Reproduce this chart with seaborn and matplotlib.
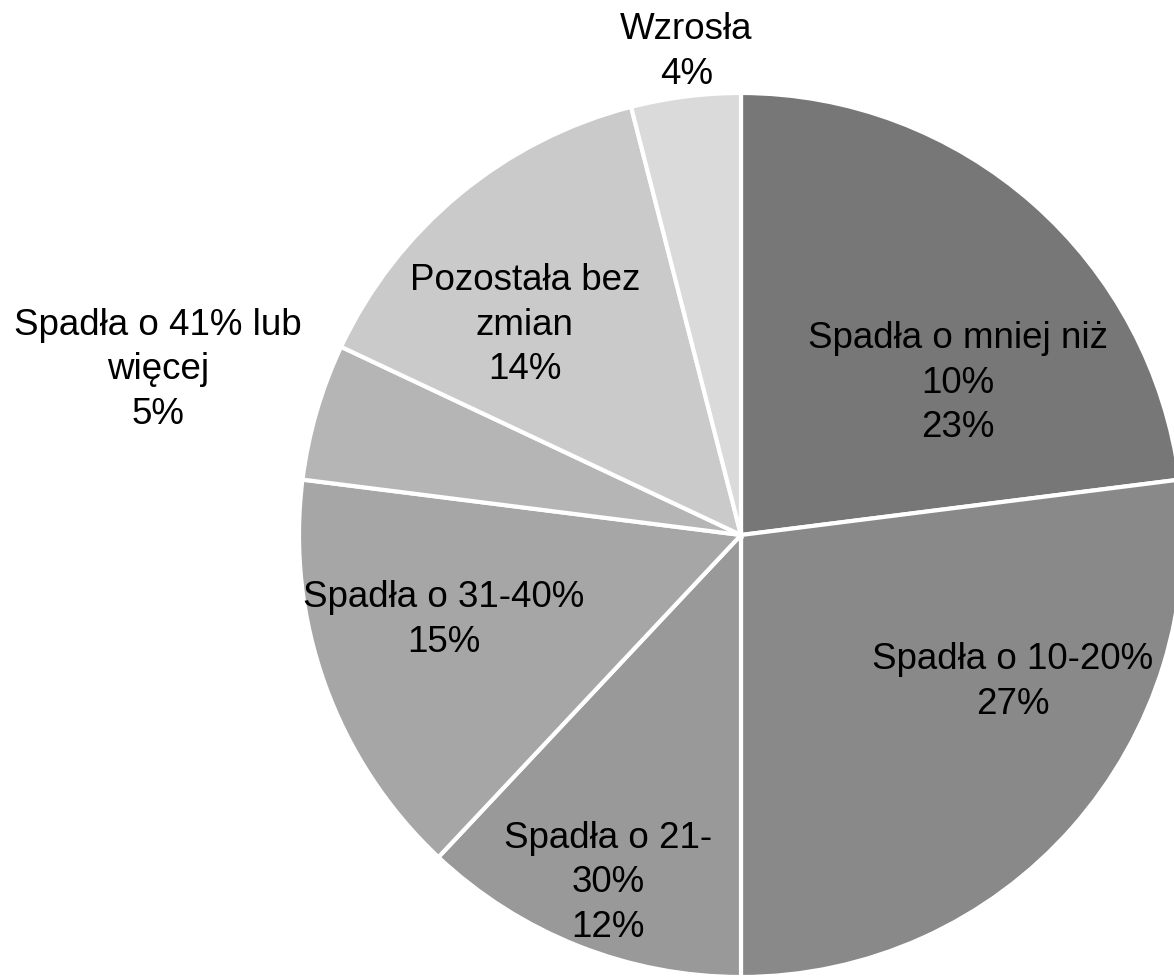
import matplotlib
matplotlib.use("Agg")
import matplotlib.pyplot as plt
import seaborn as sns

sns.set_theme(style="white")
plt.rcParams['font.family'] = ['Liberation Sans', 'DejaVu Sans']

labels = ["Spadła o mniej niż\n10%", "Spadła o 10-20%", "Spadła o 21-\n30%",
          "Spadła o 31-40%", "Spadła o 41% lub\nwięcej", "Pozostała bez\nzmian", "Wzrosła"]
values = [23, 27, 12, 15, 5, 14, 4]
colors = ["#777777", "#898989", "#999999", "#a6a6a6", "#b5b5b5", "#cacaca", "#dadada"]
# label positions (in pie-radius units), hand placed like the original
label_pos = [(0.49, 0.346), (0.615, -0.33), (-0.30, -0.785), (-0.672, -0.19),
             (-1.319, 0.376), (-0.489, 0.477), (-0.124, 1.095)]

fig = plt.figure(figsize=(11.74, 9.78), dpi=100, facecolor="white")
ax = fig.add_axes([0, 0, 1, 1])
ax.pie(values, colors=colors, startangle=90, counterclock=False, radius=1,
       wedgeprops=dict(edgecolor="white", linewidth=3))
ax.set_xlim(-741 / 442, 433 / 442)
ax.set_ylim(-1.0, 536 / 442)
ax.set_aspect("equal")
ax.axis("off")

for lab, v, (x, y) in zip(labels, values, label_pos):
    ax.text(x, y, f"{lab}\n{v}%", ha="center", va="center", fontsize=26.5,
            color="black", linespacing=1.36)

fig.savefig("out.png", dpi=100, facecolor="white")
